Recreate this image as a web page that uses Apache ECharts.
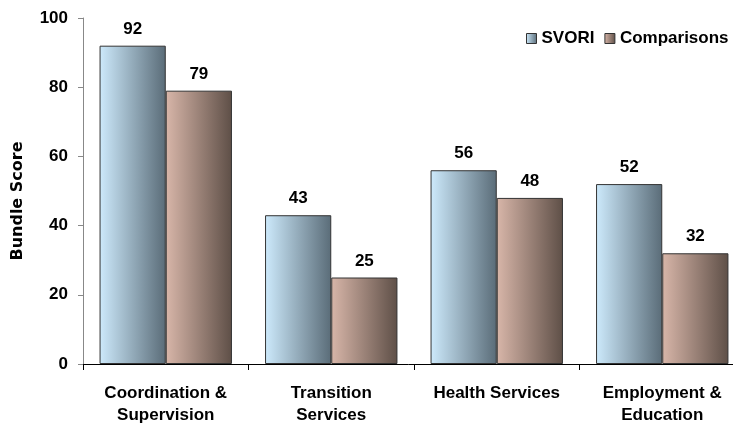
<!DOCTYPE html>
<html>
<head>
<meta charset="utf-8">
<script src="https://cdn.jsdelivr.net/npm/echarts@6/dist/echarts.min.js"></script>
<style>
  html, body { margin: 0; padding: 0; background: #fff; }
  #chart { width: 733px; height: 428px; }
</style>
</head>
<body>
<div id="chart"></div>
<script>
var categories = ['Coordination &\nSupervision', 'Transition\nServices', 'Health Services', 'Employment &\nEducation'];
var svori = [92, 43, 56, 52];
var comparisons = [79, 25, 48, 32];
var yTicks = [0, 20, 40, 60, 80, 100];

var font = 'Arial, "Liberation Sans", sans-serif';

function grad(c0, c1) {
    return new echarts.graphic.LinearGradient(0, 0, 1, 0, [
        {offset: 0, color: c0},
        {offset: 1, color: c1}
    ]);
}

var myChart = echarts.init(document.getElementById('chart'));

var option = {
    animation: false,
    textStyle: { fontFamily: font },
    grid: { left: 83, right: -12, top: 18, bottom: 64, outerBoundsMode: 'none' },
    legend: {
        orient: 'horizontal',
        left: 521,
        top: 25,
        width: 400,
        icon: 'rect',
        itemWidth: 10,
        itemHeight: 10,
        itemGap: 10,
        itemStyle: { borderColor: '#333', borderWidth: 1 },
        textStyle: { fontSize: 17, fontWeight: 'bold', color: '#000', fontFamily: font },
        data: ['SVORI', 'Comparisons']
    },
    xAxis: {
        type: 'category',
        data: categories,
        axisLine: { lineStyle: { color: '#000', width: 1 } },
        axisTick: { show: true, length: 6, lineStyle: { color: '#000' } },
        axisLabel: {
            margin: 18,
            fontSize: 17,
            fontWeight: 'bold',
            color: '#000',
            lineHeight: 22,
            interval: 0,
            fontFamily: font
        }
    },
    yAxis: {
        type: 'value',
        min: yTicks[0],
        max: yTicks[yTicks.length - 1],
        interval: 20,
        name: 'Bundle Score',
        nameLocation: 'middle',
        nameGap: 57,
        nameRotate: 90,
        nameTextStyle: {
            fontSize: 16,
            fontWeight: 'bold',
            color: '#000',
            fontFamily: '"DejaVu Sans", sans-serif',
            padding: [0, 20, 0, 0]
        },
        axisLine: { show: true, lineStyle: { color: '#888', width: 1 } },
        axisTick: { show: true, length: 5, lineStyle: { color: '#888' } },
        splitLine: { show: false },
        axisLabel: { fontSize: 17, fontWeight: 'bold', color: '#000', margin: 15, fontFamily: font }
    },
    series: [
        {
            name: 'SVORI',
            type: 'bar',
            data: svori,
            barGap: '0%',
            barCategoryGap: '20%',
            itemStyle: {
                color: grad('#cdeafc', '#5a6c78'),
                borderColor: '#333',
                borderWidth: 1
            },
            label: {
                show: true,
                position: 'top',
                distance: 8,
                fontSize: 17,
                fontWeight: 'bold',
                color: '#000',
                fontFamily: font
            }
        },
        {
            name: 'Comparisons',
            type: 'bar',
            data: comparisons,
            itemStyle: {
                color: grad('#d8b6a9', '#5e4f47'),
                borderColor: '#333',
                borderWidth: 1
            },
            label: {
                show: true,
                position: 'top',
                distance: 8,
                fontSize: 17,
                fontWeight: 'bold',
                color: '#000',
                fontFamily: font
            }
        }
    ]
};

myChart.setOption(option);
window.addEventListener('resize', function () {
    myChart.resize();
});
</script>
</body>
</html>
